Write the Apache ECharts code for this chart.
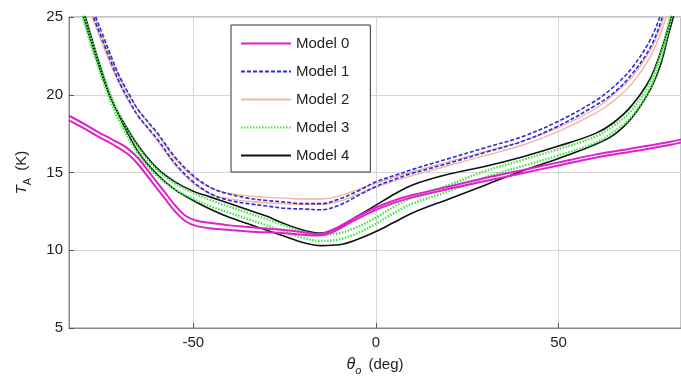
<!DOCTYPE html>
<html>
<head>
<meta charset="utf-8">
<script src="https://cdn.jsdelivr.net/npm/echarts@6/dist/echarts.min.js"></script>
<style>html,body{margin:0;padding:0;background:#fff;}#c{width:681px;height:381px;}</style>
</head>
<body>
<div id="c"></div>
<script>
// ---- data ----
const modelNames = ['Model 0', 'Model 1', 'Model 2', 'Model 3', 'Model 4'];
const xTicks = [-50, 0, 50];
const yTicks = [5, 10, 15, 20, 25];

// Model 0 (magenta)
const m0x = [-84, -80, -76, -72, -68, -65, -62, -58, -55, -52, -49, -45, -40, -35, -30, -25, -20, -16, -12, -8, -4, 0, 5, 10, 20, 30, 40, 50, 60, 70, 80, 84];
const m0u = [18.65, 18.15, 17.6, 17.1, 16.55, 15.9, 15.0, 13.8, 12.9, 12.2, 11.9, 11.75, 11.6, 11.5, 11.4, 11.3, 11.15, 11.05, 11.3, 11.8, 12.3, 12.75, 13.2, 13.55, 14.1, 14.65, 15.15, 15.65, 16.15, 16.55, 16.95, 17.15];
const m0l = [18.35, 17.85, 17.3, 16.8, 16.2, 15.5, 14.6, 13.4, 12.5, 11.85, 11.55, 11.4, 11.3, 11.2, 11.15, 11.1, 11.0, 10.95, 11.15, 11.65, 12.15, 12.6, 13.05, 13.4, 13.95, 14.45, 14.95, 15.45, 15.95, 16.35, 16.75, 16.95];

// Model 1 (blue dashed)
const m1x = [-80, -77, -75, -72, -70, -67, -65, -60, -55, -50, -45, -40, -35, -30, -25, -20, -15, -10, -5, 0, 5, 10, 20, 30, 40, 50, 60, 65, 70, 75, 78, 80];
const m1u = [27.2, 25.2, 24.0, 22.2, 21.1, 19.8, 19.0, 17.6, 16.0, 14.8, 14.0, 13.6, 13.35, 13.2, 13.1, 13.0, 13.0, 13.3, 13.8, 14.4, 14.8, 15.2, 15.9, 16.6, 17.3, 18.3, 19.6, 20.5, 21.7, 23.5, 25.2, 27.0];
const m1l = [26.8, 24.8, 23.6, 21.8, 20.7, 19.4, 18.6, 17.2, 15.6, 14.4, 13.6, 13.2, 13.0, 12.85, 12.7, 12.65, 12.6, 12.9, 13.5, 14.1, 14.55, 14.95, 15.6, 16.3, 17.0, 18.0, 19.3, 20.1, 21.3, 23.0, 24.7, 26.5];

// Model 2 (pink)
const m2x = [-80, -77, -72, -67, -60, -55, -50, -45, -40, -35, -30, -25, -20, -15, -10, -5, 0, 5, 10, 20, 30, 40, 50, 60, 65, 70, 75, 78, 80];
const m2u = [27.0, 25.0, 22.0, 19.7, 17.5, 15.9, 14.7, 14.0, 13.65, 13.5, 13.4, 13.35, 13.3, 13.3, 13.5, 13.9, 14.3, 14.7, 15.05, 15.7, 16.35, 17.0, 17.9, 19.1, 20.0, 21.1, 22.8, 24.4, 26.0];
const m2l = [26.6, 24.6, 21.6, 19.3, 17.1, 15.5, 14.3, 13.6, 13.3, 13.15, 13.05, 13.0, 12.95, 12.95, 13.15, 13.6, 14.05, 14.45, 14.8, 15.45, 16.1, 16.75, 17.65, 18.8, 19.6, 20.7, 22.4, 24.0, 25.5];

// Model 3 (green dotted)
const m3x = [-82, -80, -77, -73, -70, -65, -60, -55, -50, -45, -40, -35, -30, -25, -20, -15, -10, -5, 0, 5, 10, 20, 30, 40, 50, 60, 65, 70, 75, 78, 80, 82];
const m3u = [26.8, 25.2, 22.9, 20.2, 18.6, 16.6, 15.2, 14.3, 13.7, 13.2, 12.8, 12.4, 12.0, 11.6, 11.2, 11.0, 11.1, 11.5, 12.1, 12.8, 13.4, 14.2, 15.1, 15.8, 16.5, 17.3, 18.0, 19.0, 20.8, 22.7, 24.5, 26.5];
const m3l = [26.4, 24.8, 22.5, 19.8, 18.2, 16.2, 14.8, 13.9, 13.3, 12.8, 12.4, 12.0, 11.6, 11.2, 10.8, 10.6, 10.7, 11.1, 11.7, 12.4, 13.0, 13.8, 14.7, 15.4, 16.1, 16.9, 17.6, 18.6, 20.4, 22.3, 24.1, 26.1];

// Model 4 (black)
const m4x = [-82, -80, -77, -73, -70, -65, -60, -55, -50, -45, -40, -35, -30, -25, -20, -15, -10, -5, 0, 5, 10, 20, 30, 40, 50, 60, 65, 70, 75, 78, 80, 82];
const m4u = [26.6, 25.0, 22.7, 20.0, 18.6, 16.7, 15.3, 14.4, 13.8, 13.4, 13.0, 12.6, 12.2, 11.7, 11.3, 11.1, 11.5, 12.2, 12.9, 13.6, 14.2, 14.9, 15.4, 16.0, 16.7, 17.5, 18.2, 19.3, 21.0, 22.8, 24.3, 26.0];
const m4l = [27.0, 25.4, 23.0, 20.1, 18.5, 16.3, 14.9, 13.9, 13.2, 12.6, 12.1, 11.7, 11.3, 10.9, 10.5, 10.3, 10.35, 10.7, 11.2, 11.8, 12.4, 13.3, 14.2, 15.1, 15.9, 16.8, 17.4, 18.5, 20.3, 22.0, 23.8, 25.5];

// ---- chart ----
const pair = (xs, ys) => xs.map((x, i) => [x, ys[i]]);
const styles = {
  'Model 0': { color: '#dd22cc', width: 2, type: 'solid' },
  'Model 1': { color: '#2b2bd6', width: 1.6, type: [4, 2] },
  'Model 2': { color: '#f0b4a4', width: 1.4, type: 'solid' },
  'Model 3': { color: '#3ee83e', width: 2.4, type: [1.5, 1.5] },
  'Model 4': { color: '#111111', width: 1.6, type: 'solid' }
};
const groups = [
  ['Model 4', m4x, m4u, m4l],
  ['Model 3', m3x, m3u, m3l],
  ['Model 2', m2x, m2u, m2l],
  ['Model 1', m1x, m1u, m1l],
  ['Model 0', m0x, m0u, m0l]
];
const series = [];
groups.forEach(([name, xs, u, l]) => {
  [u, l].forEach(ys => {
    series.push({
      name: name, type: 'line', data: pair(xs, ys), smooth: 0.35,
      symbol: 'none', clip: true,
      itemStyle: { color: styles[name].color },
      lineStyle: { color: styles[name].color, width: styles[name].width, type: styles[name].type }
    });
  });
});

const chart = echarts.init(document.getElementById('c'), null, { renderer: 'canvas' });
const font = 'Liberation Sans, Arial, sans-serif';
chart.setOption({
  animation: false,
  backgroundColor: '#fff',
  grid: { left: 69, right: 0, top: 17, bottom: 49, show: true, borderColor: '#8a8a8a', borderWidth: 1, backgroundColor: 'transparent' },
  legend: {
    data: modelNames, orient: 'vertical', left: 231, top: 25,
    padding: [11, 21, 9, 9], itemWidth: 50, itemHeight: 14, itemGap: 13,
    backgroundColor: '#fff', borderColor: '#333', borderWidth: 1,
    itemStyle: { opacity: 0 },
    textStyle: { fontFamily: font, fontSize: 15, color: '#222' }
  },
  xAxis: {
    type: 'value', min: -84, max: 83.5, interval: 50,
    name: '{i|θ}{s|o} (deg)', nameLocation: 'middle', nameGap: 25,
    nameTextStyle: { fontFamily: font, fontSize: 15, color: '#222',
      rich: { i: { fontStyle: 'italic', fontSize: 16, fontFamily: font, color: '#222' }, s: { fontSize: 11, fontStyle: 'italic', fontFamily: font, color: '#222', padding: [12, 3, 0, 0] } } },
    axisLine: { show: true, onZero: false, lineStyle: { color: '#8a8a8a' } },
    axisTick: { show: true, inside: true, length: 5, lineStyle: { color: '#555' }, customValues: xTicks },
    axisLabel: { fontFamily: font, fontSize: 15, color: '#222', margin: 7, customValues: xTicks },
    splitLine: { show: true, lineStyle: { color: '#d6d6d6', width: 1 } },
    axisPointer: { show: false }
  },
  yAxis: {
    type: 'value', min: 5, max: 25, interval: 5,
    name: '{i|T}{s|A} (K)', nameLocation: 'middle', nameGap: 36,
    nameTextStyle: { fontFamily: font, fontSize: 15, color: '#222',
      rich: { i: { fontStyle: 'italic', fontSize: 15, fontFamily: font, color: '#222' }, s: { fontSize: 11, fontFamily: font, color: '#222', padding: [12, 3, 0, 0] } } },
    axisLine: { show: true, onZero: false, lineStyle: { color: '#8a8a8a' } },
    axisTick: { show: true, inside: true, length: 5, lineStyle: { color: '#555' } },
    axisLabel: { fontFamily: font, fontSize: 15, color: '#222', margin: 6 },
    splitLine: { show: true, lineStyle: { color: '#d6d6d6', width: 1 } }
  },
  series: series
});
</script>
</body>
</html>
